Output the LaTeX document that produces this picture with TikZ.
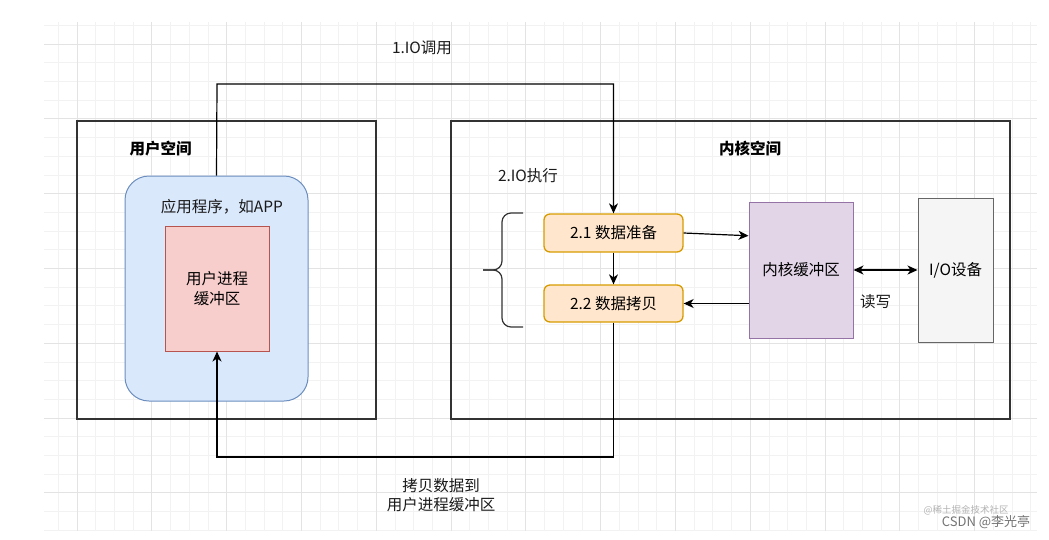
\documentclass[tikz,border=0pt]{standalone}
\usepackage{fontspec}
\setmainfont{Noto Sans CJK SC}
\usetikzlibrary{arrows.meta,calc}
\definecolor{GridMinor}{HTML}{F2F2F2}
\definecolor{GridMajor}{HTML}{E3E3E3}
\definecolor{Frame}{HTML}{333333}
\definecolor{AppFill}{HTML}{DAE8FC}
\definecolor{AppLine}{HTML}{6C8EBF}
\definecolor{BufFill}{HTML}{F8CECC}
\definecolor{BufLine}{HTML}{B85450}
\definecolor{StepFill}{HTML}{FFE6CC}
\definecolor{StepLine}{HTML}{D79B00}
\definecolor{KbufFill}{HTML}{E1D5E7}
\definecolor{KbufLine}{HTML}{9673A6}
\definecolor{DevFill}{HTML}{F5F5F5}
\definecolor{DevLine}{HTML}{666666}
\definecolor{Ink}{HTML}{1A1A1A}
\tikzset{
  space/.style={draw=Frame,line width=1.5pt,inner sep=0pt},
  app/.style={draw=AppLine,fill=AppFill,line width=1pt,rounded corners=24pt,inner sep=0pt},
  ubuf/.style={draw=BufLine,fill=BufFill,line width=1pt,inner sep=0pt,align=center,font=\lbl},
  stepbox/.style={draw=StepLine,fill=StepFill,line width=1.3pt,rounded corners=6pt,inner sep=0pt,
                  minimum width=139pt,minimum height=38pt,font=\lbl},
  kbuf/.style={draw=KbufLine,fill=KbufFill,line width=1pt,inner sep=0pt,font=\lbl},
  dev/.style={draw=DevLine,fill=DevFill,line width=1pt,inner sep=0pt,font=\lbl},
  lab/.style={text=Ink,inner sep=0pt,align=center,font=\lbl},
  title/.style={text=black,inner sep=0pt,font=\lbl\bfseries},
  conn/.style={-{Stealth[length=10pt,width=9pt,inset=3pt]},draw=black,line width=1.2pt},
  both/.style={{Stealth[length=10pt,width=9pt,inset=3pt]}-{Stealth[length=10pt,width=9pt,inset=3pt]},draw=black,line width=1.2pt},
}
\newcommand{\lbl}{\fontsize{15.5}{19.5}\selectfont}
\begin{document}
\begin{tikzpicture}[x=1pt,y=-1pt]
  \useasboundingbox (0,0) rectangle (1049,539);
  % background grid
  \foreach \k in {-1,...,51}{
    \draw[GridMinor,line width=.8pt] ({77+18.7*\k},22) -- ({77+18.7*\k},531);}
  \foreach \k in {-1,...,26}{
    \draw[GridMinor,line width=.8pt] (44,{44+18.7*\k}) -- (1037,{44+18.7*\k});}
  \foreach \k in {0,...,12}{
    \draw[GridMajor,line width=.8pt] ({77+74.8*\k},22) -- ({77+74.8*\k},531);}
  \foreach \k in {0,...,6}{
    \draw[GridMajor,line width=.8pt] (44,{44+74.8*\k}) -- (1037,{44+74.8*\k});}

  % user space
  \node[space,minimum width=299pt,minimum height=298pt] (user) at (226.5,270) {};
  \node[title] (userT) at (160.5,149) {用户空间};
  \node[app,minimum width=183pt,minimum height=225pt] (app) at (216.5,288.5) {};
  \node[lab] (appT) at (222,207) {应用程序，如APP};
  \node[ubuf,minimum width=104pt,minimum height=125pt] (ubuf) at (217,288.5) {用户进程\\缓冲区};

  % kernel space
  \node[space,minimum width=559pt,minimum height=298pt] (kernel) at (730.5,270) {};
  \node[title] (kernelT) at (750,149) {内核空间};
  \node[lab] (execT) at (528,176) {2.IO执行};
  \node[stepbox] (prep) at (613.5,233) {2.1 数据准备};
  \node[stepbox,minimum height=37pt] (copy) at (613.5,303.5) {2.2 数据拷贝};
  \node[kbuf,minimum width=104pt,minimum height=136pt] (kbuf) at (801,270) {内核缓冲区};
  \node[dev,minimum width=75pt,minimum height=144pt] (dev) at (955.5,270) {I/O设备};
  \node[lab] (rwT) at (875.5,302) {读写};

  % brace round the two steps
  \draw[Frame,line width=1.2pt,rounded corners=9pt] (523,213) -- (502,213) -- (502,270) -- (483,270);
  \draw[Frame,line width=1.2pt,rounded corners=9pt] (483,270) -- (502,270) -- (502,327) -- (523,327);

  % connectors
  \coordinate (callTop) at (217,84);
  \coordinate (copyBot) at (613.5,457);
  \draw[conn] (app.north) -- (callTop) -| (prep.north);
  \draw[conn] (prep.south) -- (copy.north);
  \draw[conn] (prep.east) -- ($(kbuf.north west)!.25!(kbuf.south west)$);
  \draw[conn] (kbuf.west |- copy.east) -- (copy.east);
  \draw[both] (kbuf.east) -- (dev.west);
  \draw[conn] (copy.south) -- (copyBot) -| (ubuf.south);

  \node[lab] (callT) at (422,48) {1.IO调用};
  \node[lab] (copyT) at (441,495) {拷贝数据到\\用户进程缓冲区};

  % watermark
  \node[text=black!30,inner sep=0pt,font=\fontsize{9.5}{11}\selectfont] (wm1) at (966,510) {@稀土掘金技术社区};
  \node[text=black!55,inner sep=0pt,font=\fontsize{13}{15}\selectfont] (wm2) at (986,522) {CSDN @李光亭};
\end{tikzpicture}
\end{document}
